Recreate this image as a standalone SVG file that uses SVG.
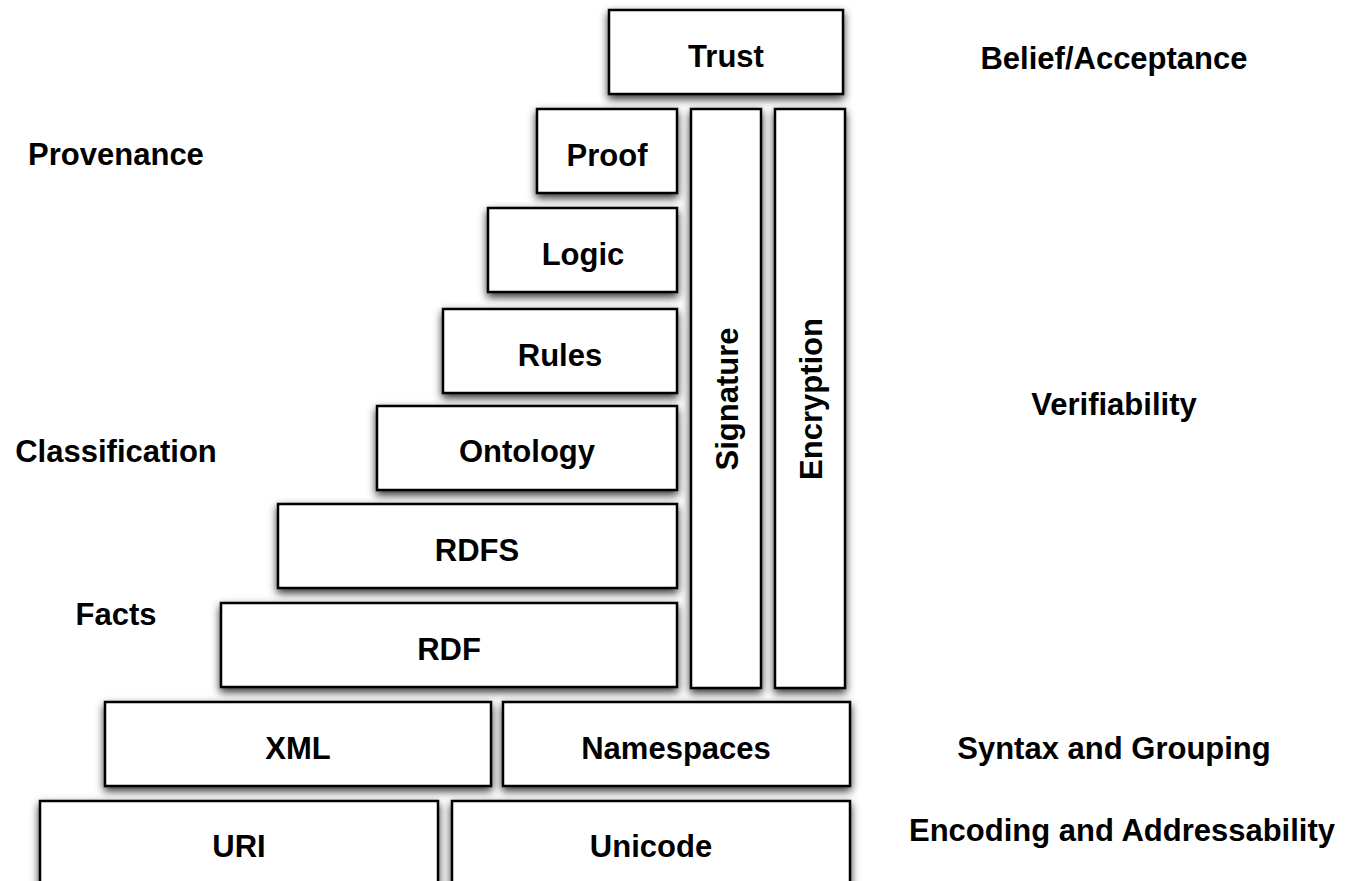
<svg xmlns="http://www.w3.org/2000/svg" width="1352" height="881" viewBox="0 0 1352 881">
<defs>
<filter id="sh" x="-20%" y="-20%" width="140%" height="140%">
<feDropShadow dx="0" dy="4" stdDeviation="4.5" flood-color="#000" flood-opacity="0.8"/>
</filter>
</defs>
<style>
.box{fill:#fff;stroke:#000;stroke-width:2.5;filter:url(#sh)}
text{font-family:"Liberation Sans",Arial,Helvetica,sans-serif;font-weight:bold;font-size:31px;fill:#000;text-anchor:middle}
</style>
<rect width="1352" height="881" fill="#fff"/>
<g id="uri"><rect class="box" x="40" y="801" width="398" height="90"/><text x="239" y="857">URI</text></g>
<g id="unicode"><rect class="box" x="452" y="801" width="398" height="90"/><text x="651" y="857">Unicode</text></g>
<g id="xml"><rect class="box" x="105" y="702" width="386" height="84"/><text x="298" y="759">XML</text></g>
<g id="namespaces"><rect class="box" x="503" y="702" width="347" height="84"/><text x="676" y="759">Namespaces</text></g>
<g id="rdf"><rect class="box" x="221" y="603" width="456" height="84"/><text x="449" y="660">RDF</text></g>
<g id="rdfs"><rect class="box" x="278" y="504" width="399" height="84"/><text x="477" y="561">RDFS</text></g>
<g id="ontology"><rect class="box" x="377" y="406" width="300" height="84"/><text x="527" y="462">Ontology</text></g>
<g id="rules"><rect class="box" x="443" y="309" width="234" height="84"/><text x="560" y="366">Rules</text></g>
<g id="logic"><rect class="box" x="488" y="208" width="189" height="84"/><text x="583" y="265">Logic</text></g>
<g id="proof"><rect class="box" x="537" y="109" width="140" height="84"/><text x="607" y="166">Proof</text></g>
<g id="trust"><rect class="box" x="609" y="10" width="234" height="84"/><text x="726" y="67">Trust</text></g>
<g id="signature"><rect class="box" x="691" y="109" width="70" height="579"/><text transform="translate(738,399) rotate(-90)" x="0" y="0">Signature</text></g>
<g id="encryption"><rect class="box" x="775" y="109" width="70" height="579"/><text transform="translate(822,399) rotate(-90)" x="0" y="0">Encryption</text></g>
<g id="connectors"></g>
<g id="labels">
<text x="116" y="165">Provenance</text>
<text x="116" y="462">Classification</text>
<text x="116" y="625">Facts</text>
<text x="1114" y="69">Belief/Acceptance</text>
<text x="1114" y="415">Verifiability</text>
<text x="1114" y="759">Syntax and Grouping</text>
<text x="1122" y="841">Encoding and Addressability</text>
</g>
</svg>
